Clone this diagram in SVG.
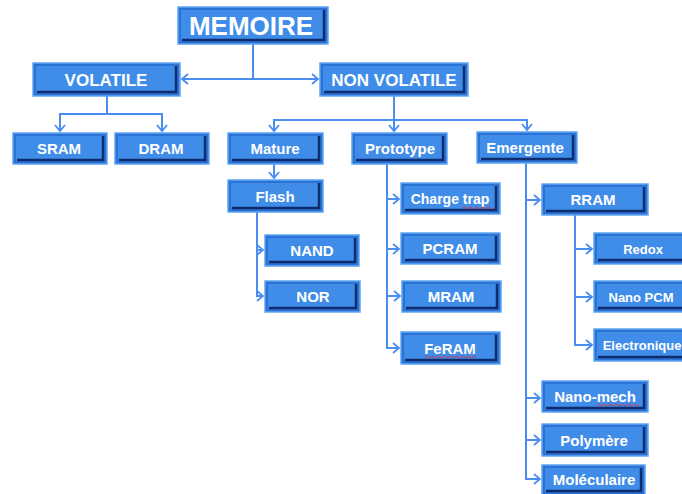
<svg xmlns="http://www.w3.org/2000/svg" width="682" height="494" viewBox="0 0 682 494">
<defs>
<marker id="ar" markerUnits="userSpaceOnUse" markerWidth="10" markerHeight="12" refX="7" refY="6" orient="auto">
<path d="M1,1 L7,6 L1,11" fill="none" stroke="#4a8ef0" stroke-width="1.8"/>
</marker>
<style>
.o{fill:#2c72d4;stroke:#5ea6f4;stroke-width:1.5}
.f{fill:#3f8de8}
.s{fill:none;stroke:#0e2c6e;stroke-width:2.5}
.t{fill:#fff;font-family:"Liberation Sans",Arial,sans-serif;font-weight:bold;text-anchor:middle}
.c path{fill:none;stroke:#4a8ef0;stroke-width:2;marker-end:url(#ar)}
.c path.n{marker-end:none}
.w{fill:none;stroke:#e0303a;stroke-width:0.9}
</style>
</defs>
<rect width="682" height="494" fill="#fff"/>
<g class="c" id="connectors">
<path class="n" d="M253,44 V79"/>
<path d="M253,79 H182"/>
<path d="M253,79 H318"/>
<path class="n" d="M107,96 V114"/>
<path d="M107,114 H60 V131"/>
<path d="M107,114 H162 V131"/>
<path d="M394,96 V131"/>
<path d="M394,120 H274 V131"/>
<path d="M394,120 H527 V130"/>
<path d="M274,164 V178"/>
<path d="M257,212 V296 H263"/>
<path d="M257,250 H263"/>
<path d="M387,164 V348 H399"/>
<path d="M387,199 H399"/>
<path d="M387,249 H399"/>
<path d="M387,296 H400"/>
<path d="M526,163 V479 H540"/>
<path d="M526,200 H540"/>
<path d="M526,398 H540"/>
<path d="M526,440 H540"/>
<path d="M575,215 V345 H592"/>
<path d="M575,249 H592"/>
<path d="M575,297 H592"/>
</g>
<g id="memoire"><rect class="o" x="178" y="7" width="150" height="37"/><rect class="f" x="181" y="10" width="144" height="31"/><polyline class="s" points="324,10 324,40 182,40"/><text class="t" x="251" y="34.5" font-size="26">MEMOIRE</text></g>
<g id="volatile"><rect class="o" x="33" y="63" width="147" height="33"/><rect class="f" x="36" y="66" width="141" height="27"/><polyline class="s" points="176,66 176,92 37,92"/><text class="t" x="106" y="85.5" font-size="17">VOLATILE</text></g>
<g id="nonvolatile"><rect class="o" x="320" y="63" width="148" height="33"/><rect class="f" x="323" y="66" width="142" height="27"/><polyline class="s" points="464,66 464,92 324,92"/><text class="t" x="394" y="85.5" font-size="17">NON VOLATILE</text></g>
<g id="sram"><rect class="o" x="13" y="133" width="94" height="31"/><rect class="f" x="16" y="136" width="88" height="25"/><polyline class="s" points="103,136 103,160 17,160"/><text class="t" x="59" y="154" font-size="15">SRAM</text></g>
<g id="dram"><rect class="o" x="115" y="133" width="94" height="31"/><rect class="f" x="118" y="136" width="88" height="25"/><polyline class="s" points="205,136 205,160 119,160"/><text class="t" x="161" y="154" font-size="15">DRAM</text></g>
<g id="mature"><rect class="o" x="228" y="133" width="95" height="31"/><rect class="f" x="231" y="136" width="89" height="25"/><polyline class="s" points="319,136 319,160 232,160"/><text class="t" x="275" y="154" font-size="15">Mature</text></g>
<g id="prototype"><rect class="o" x="352" y="133" width="95" height="31"/><rect class="f" x="355" y="136" width="89" height="25"/><polyline class="s" points="443,136 443,160 356,160"/><text class="t" x="400" y="154" font-size="15">Prototype</text></g>
<g id="emergente"><rect class="o" x="477" y="132" width="100" height="31"/><rect class="f" x="480" y="135" width="94" height="25"/><polyline class="s" points="573,135 573,159 481,159"/><text class="t" x="525" y="153" font-size="15">Emergente</text></g>
<g id="flash"><rect class="o" x="228" y="180" width="95" height="32"/><rect class="f" x="231" y="183" width="89" height="26"/><polyline class="s" points="319,183 319,208 232,208"/><text class="t" x="275" y="201.5" font-size="15">Flash</text></g>
<g id="nand"><rect class="o" x="265" y="235" width="94" height="31"/><rect class="f" x="268" y="238" width="88" height="25"/><polyline class="s" points="355,238 355,262 269,262"/><text class="t" x="312" y="256" font-size="15">NAND</text></g>
<g id="nor"><rect class="o" x="265" y="281" width="95" height="31"/><rect class="f" x="268" y="284" width="89" height="25"/><polyline class="s" points="356,284 356,308 269,308"/><text class="t" x="313" y="302" font-size="15">NOR</text></g>
<g id="chargetrap"><rect class="o" x="401" y="183" width="99" height="31"/><rect class="f" x="404" y="186" width="93" height="25"/><polyline class="s" points="496,186 496,210 405,210"/><text class="t" x="450" y="204" font-size="14">Charge trap</text><path class="w" d="M463,208 q1.5,-2 3,0 t3,0 t3,0 t3,0 t3,0 t3,0 t3,0 t3,0 t3,0 t3,0"/></g>
<g id="pcram"><rect class="o" x="401" y="233" width="99" height="31"/><rect class="f" x="404" y="236" width="93" height="25"/><polyline class="s" points="496,236 496,260 405,260"/><text class="t" x="450" y="254" font-size="15">PCRAM</text></g>
<g id="mram"><rect class="o" x="402" y="281" width="99" height="31"/><rect class="f" x="405" y="284" width="93" height="25"/><polyline class="s" points="497,284 497,308 406,308"/><text class="t" x="451" y="302" font-size="15">MRAM</text></g>
<g id="feram"><rect class="o" x="401" y="332" width="99" height="32"/><rect class="f" x="404" y="335" width="93" height="26"/><polyline class="s" points="496,335 496,360 405,360"/><text class="t" x="450" y="353.5" font-size="15">FeRAM</text><path class="w" d="M425,357 q1.5,-2 3,0 t3,0 t3,0 t3,0 t3,0 t3,0 t3,0 t3,0 t3,0 t3,0 t3,0 t3,0 t3,0 t3,0 t3,0 t3,0 t3,0"/></g>
<g id="rram"><rect class="o" x="542" y="184" width="106" height="31"/><rect class="f" x="545" y="187" width="100" height="25"/><polyline class="s" points="644,187 644,211 546,211"/><text class="t" x="593" y="205" font-size="15">RRAM</text></g>
<g id="redox"><rect class="o" x="594" y="233" width="98" height="31"/><rect class="f" x="597" y="236" width="92" height="25"/><polyline class="s" points="688,236 688,260 598,260"/><text class="t" x="643" y="253.5" font-size="13">Redox</text></g>
<g id="nanopcm"><rect class="o" x="594" y="281" width="98" height="31"/><rect class="f" x="597" y="284" width="92" height="25"/><polyline class="s" points="688,284 688,308 598,308"/><text class="t" x="641" y="301.5" font-size="13">Nano PCM</text></g>
<g id="electronique"><rect class="o" x="594" y="329" width="98" height="32"/><rect class="f" x="597" y="332" width="92" height="26"/><polyline class="s" points="688,332 688,357 598,357"/><text class="t" x="642" y="350" font-size="13">Electronique</text></g>
<g id="nanomech"><rect class="o" x="542" y="381" width="106" height="31"/><rect class="f" x="545" y="384" width="100" height="25"/><polyline class="s" points="644,384 644,408 546,408"/><text class="t" x="595" y="402" font-size="15">Nano-mech</text><path class="w" d="M597,405 q1.5,-2 3,0 t3,0 t3,0 t3,0 t3,0 t3,0 t3,0 t3,0 t3,0 t3,0 t3,0 t3,0 t3,0 t3,0"/></g>
<g id="polymere"><rect class="o" x="542" y="424" width="106" height="32"/><rect class="f" x="545" y="427" width="100" height="26"/><polyline class="s" points="644,427 644,452 546,452"/><text class="t" x="594" y="445.5" font-size="15">Polymère</text></g>
<g id="moleculaire"><rect class="o" x="542" y="465" width="103" height="30"/><rect class="f" x="545" y="468" width="97" height="24"/><polyline class="s" points="641,468 641,491 546,491"/><text class="t" x="594" y="485" font-size="15">Moléculaire</text></g>
</svg>
